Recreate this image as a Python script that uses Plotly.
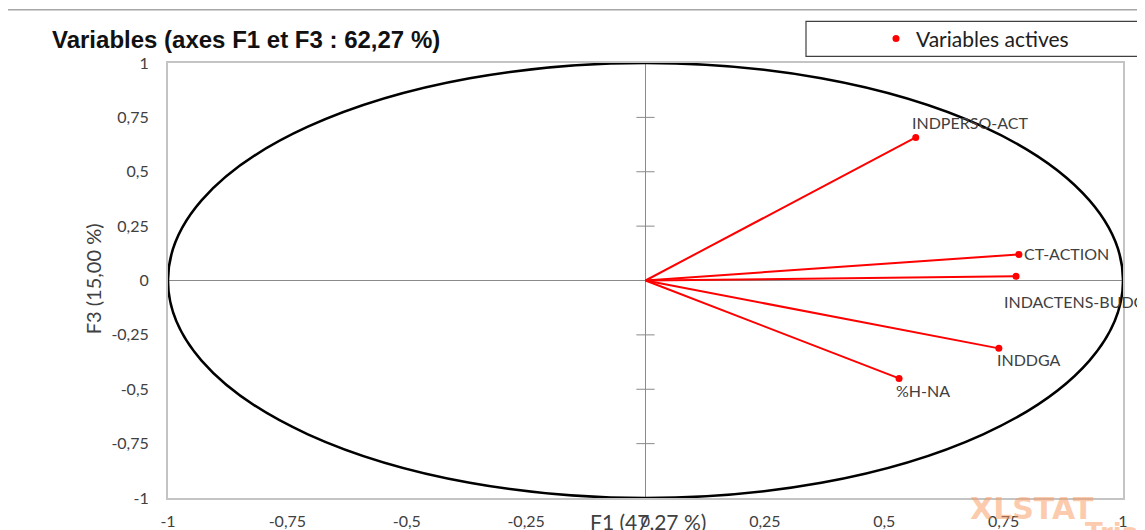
import plotly.graph_objects as go

# ---- data ----
var_names = ["INDPERSO-ACT", "CT-ACTION", "INDACTENS-BUDG", "INDDGA", "%H-NA"]
f1_vals = [0.566, 0.782, 0.776, 0.740, 0.531]
f3_vals = [0.658, 0.120, 0.019, -0.312, -0.450]
tick_vals = [-1, -0.75, -0.5, -0.25, 0, 0.25, 0.5, 0.75, 1]
tick_text = ["-1", "-0,75", "-0,5", "-0,25", "0", "0,25", "0,5", "0,75", "1"]
title_text = "Variables (axes F1 et F3 : 62,27 %)"
x_title = "F1 (47,27 %)"
y_title = "F3 (15,00 %)"
legend_name = "Variables actives"

# label placement (pixel offsets from point, style only)
label_style = {
    "INDPERSO-ACT": dict(xanchor="left", yanchor="middle", xshift=-6, yshift=15),
    "CT-ACTION": dict(xanchor="left", yanchor="middle", xshift=3, yshift=1),
    "INDACTENS-BUDG": dict(xanchor="left", yanchor="middle", xshift=-14, yshift=-25),
    "INDDGA": dict(xanchor="left", yanchor="middle", xshift=-4, yshift=-11),
    "%H-NA": dict(xanchor="left", yanchor="middle", xshift=-5, yshift=-12),
}

W, H = 1145, 530
OFF = 8  # page body margin in the browser
# plot area as seen in the screenshot (pixels)
L, R, T, B = 168, 1123, 62.7, 497.7


def px2x(px):
    return (px - L) / (R - L)


def px2y(py):
    return (B - py) / (B - T)


LABEL_FONT = "Lato, 'Open Sans', sans-serif"

fig = go.Figure()

# crossing tick marks on the vertical zero axis
inner_ticks = [t for t in tick_vals if t not in (0, -1, 1)]
fig.add_trace(go.Scatter(
    x=[0] * len(inner_ticks), y=inner_ticks, mode="markers",
    marker=dict(symbol="line-ew", size=13, line=dict(color="#8a8a8a", width=1)),
    showlegend=False, hoverinfo="skip"))

# vectors from origin
lx, ly = [], []
for xv, yv in zip(f1_vals, f3_vals):
    lx += [0, xv, None]
    ly += [0, yv, None]
fig.add_trace(go.Scatter(x=lx, y=ly, mode="lines",
                         line=dict(color="#ff0000", width=2),
                         showlegend=False, hoverinfo="skip"))

fig.add_trace(go.Scatter(x=f1_vals, y=f3_vals, mode="markers", name=legend_name,
                         marker=dict(color="#ff0000", size=7), text=var_names))

for name, xv, yv in zip(var_names, f1_vals, f3_vals):
    st = label_style[name]
    fig.add_annotation(x=xv, y=yv, xref="x", yref="y", text=name, showarrow=False,
                       font=dict(family=LABEL_FONT, size=16, color="#404040"), **st)

shapes = []
# correlation circle
shapes.append(dict(type="circle", xref="x", yref="y", x0=-1, y0=-1, x1=1, y1=1,
                   line=dict(color="black", width=2.5), layer="above"))
# outer chart frame
shapes.append(dict(type="rect", xref="paper", yref="paper",
                   x0=px2x(7), y0=px2y(580), x1=px2x(1220), y1=px2y(9.5),
                   line=dict(color="#a6a6a6", width=1.5), layer="below"))
# legend box
shapes.append(dict(type="rect", xref="paper", yref="paper",
                   x0=px2x(806), y0=px2y(56), x1=px2x(1175), y1=px2y(21),
                   line=dict(color="#404040", width=1.2)))
fig.update_layout(shapes=shapes)

# axis titles and title
fig.add_annotation(text=x_title, xref="x", yref="paper", x=0.005, y=px2y(521),
                   showarrow=False, xanchor="center", yanchor="middle",
                   font=dict(family=LABEL_FONT, size=21, color="#404040"))
fig.add_annotation(text=y_title, xref="paper", yref="paper", x=px2x(93), y=px2y(279),
                   showarrow=False, textangle=-90, xanchor="center", yanchor="middle",
                   font=dict(family=LABEL_FONT, size=20, color="#404040"))
fig.add_annotation(text="<b>" + title_text + "</b>", xref="paper", yref="paper",
                   x=px2x(50), y=px2y(39), showarrow=False, xanchor="left", yanchor="middle",
                   font=dict(family="'Liberation Sans', Arial, sans-serif", size=24, color="#111111"))

# watermark
fig.add_annotation(text="<b>XLSTAT</b>", xref="paper", yref="paper", x=px2x(968), y=px2y(508),
                   showarrow=False, xanchor="left", yanchor="middle",
                   font=dict(family="'DejaVu Sans', sans-serif", size=30, color="rgba(250,150,90,0.5)"))
fig.add_annotation(text="<b>Trial</b>", xref="paper", yref="paper", x=px2x(1083), y=px2y(533),
                   showarrow=False, xanchor="left", yanchor="middle",
                   font=dict(family="'DejaVu Sans', sans-serif", size=26, color="rgba(250,150,90,0.5)"))

axis_common = dict(
    range=[-1, 1], showgrid=False, zeroline=True, zerolinecolor="#8a8a8a", zerolinewidth=1,
    showline=True, mirror=True, linecolor="#c4c4c4", linewidth=2,
    tickmode="array", tickvals=tick_vals, ticktext=tick_text,
    ticks="outside", tickcolor="rgba(0,0,0,0)",
    tickfont=dict(family=LABEL_FONT, size=16, color="#404040"),
)
fig.update_xaxes(**axis_common, ticklen=8)
fig.update_yaxes(**axis_common, ticklen=14)

fig.update_layout(
    width=W, height=H,
    margin=dict(l=L - OFF, r=W - (R - OFF), t=T - OFF, b=H - (B - OFF), autoexpand=False),
    plot_bgcolor="white", paper_bgcolor="white",
    showlegend=True,
    legend=dict(x=px2x(876), y=px2y(38.5), xanchor="left", yanchor="middle",
                bgcolor="rgba(0,0,0,0)", borderwidth=0,
                font=dict(family=LABEL_FONT, size=21, color="#202020")),
)

fig.write_html("out.html")
